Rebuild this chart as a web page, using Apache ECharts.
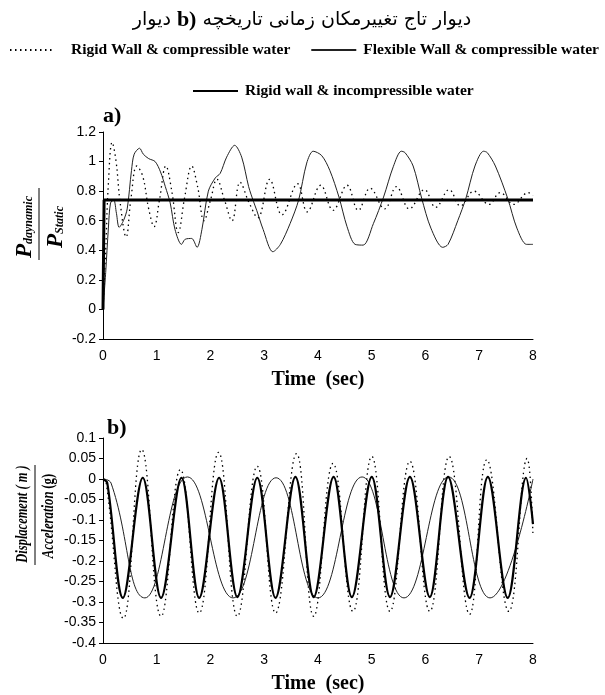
<!DOCTYPE html>
<html><head><meta charset="utf-8">
<script src="https://cdn.jsdelivr.net/npm/echarts@6/dist/echarts.min.js"></script>
<style>html,body{margin:0;padding:0;background:#fff}#c{width:605px;height:695px}</style>
</head><body><div id="c"></div>
<script>
// ---- names / ticks ----
const nameRigidComp = 'Rigid Wall & compressible water';
const nameFlexComp = 'Flexible Wall & compressible water';
const nameRigidIncomp = 'Rigid wall & incompressible water';
// title words in the order they appear on the picture, left to right
const titleWords = ['دیوار', 'b)', 'تاریخچه', 'زمانی', 'تغییرمکان', 'تاج', 'دیوار'];
const xTickLabels = ['0','1','2','3','4','5','6','7','8'];
const yTicksA = [-0.2, 0, 0.2, 0.4, 0.6, 0.8, 1, 1.2];
const yTicksB = [-0.4, -0.35, -0.3, -0.25, -0.2, -0.15, -0.1, -0.05, 0, 0.05, 0.1];

// ---- panel a) pressure ratio, [time s, Pdyn/Pstatic] ----
const aRigidCompressible = [[0,0],[0.05,0.4],[0.1,0.85],[0.17,1.13],[0.24,1.01],[0.32,0.72],[0.43,0.49],[0.52,0.75],[0.63,0.97],[0.74,0.9],[0.85,0.68],[0.95,0.56],[1.05,0.74],[1.17,0.97],[1.28,0.8],[1.4,0.52],[1.52,0.76],[1.65,0.97],[1.76,0.83],[1.88,0.6],[2.0,0.74],[2.12,0.88],[2.26,0.74],[2.4,0.6],[2.55,0.86],[2.72,0.72],[2.88,0.62],[3.1,0.88],[3.33,0.64],[3.62,0.85],[3.8,0.66],[4.05,0.84],[4.28,0.67],[4.54,0.84],[4.75,0.67],[4.97,0.82],[5.24,0.68],[5.46,0.83],[5.7,0.68],[5.98,0.81],[6.19,0.69],[6.44,0.81],[6.65,0.7],[6.9,0.8],[7.18,0.71],[7.39,0.79],[7.64,0.71],[7.91,0.79],[8.0,0.77]];
const aFlexCompressible = [[0,0],[0.05,0.25],[0.1,0.55],[0.14,0.72],[0.2,0.74],[0.25,0.65],[0.3,0.555],[0.38,0.6],[0.45,0.68],[0.53,0.94],[0.58,1.05],[0.68,1.09],[0.75,1.05],[0.85,1.02],[0.97,1.0],[1.07,0.93],[1.16,0.83],[1.25,0.72],[1.34,0.54],[1.46,0.44],[1.53,0.475],[1.65,0.48],[1.75,0.42],[1.84,0.54],[1.96,0.8],[2.09,0.89],[2.18,0.92],[2.3,1.03],[2.45,1.11],[2.58,1.03],[2.71,0.83],[2.8,0.73],[2.86,0.67],[2.98,0.54],[3.16,0.39],[3.3,0.44],[3.48,0.58],[3.64,0.74],[3.79,0.99],[3.91,1.07],[4.07,1.04],[4.22,0.94],[4.39,0.76],[4.54,0.56],[4.69,0.44],[4.84,0.435],[5.03,0.58],[5.22,0.76],[5.4,0.965],[5.55,1.07],[5.62,1.06],[5.77,0.97],[5.93,0.75],[6.1,0.55],[6.32,0.42],[6.42,0.44],[6.6,0.6],[6.75,0.75],[6.92,0.97],[7.08,1.07],[7.15,1.06],[7.3,0.97],[7.53,0.75],[7.7,0.55],[7.88,0.44],[8.0,0.44]];
const aRigidIncompressible = [[0,0],[0.02,0.74],[8,0.74]];

// ---- panel b) displacement / acceleration, [time s, value] ----
const bRigidCompressible = [[0,0],[0.06,-0.01],[0.38,-0.34],[0.72,0.072],[1.08,-0.335],[1.44,0.023],[1.79,-0.327],[2.15,0.065],[2.5,-0.335],[2.87,0.031],[3.21,-0.327],[3.6,0.062],[3.92,-0.335],[4.28,0.038],[4.65,-0.323],[5.0,0.055],[5.34,-0.323],[5.71,0.043],[6.08,-0.323],[6.44,0.055],[6.82,-0.33],[7.14,0.047],[7.55,-0.323],[7.89,0.05],[8.0,-0.14]];
const bFlexCompressible = [[0,0],[0.15,-0.01],[0.78,-0.29],[1.57,0.005],[2.42,-0.29],[3.22,0.003],[4.0,-0.29],[4.82,0.005],[5.6,-0.29],[6.43,0.005],[7.2,-0.29],[8.0,0.0]];
const bRigidIncompressible = [[0,0],[0.08,-0.01],[0.37,-0.29],[0.74,0.003],[1.08,-0.29],[1.46,0.003],[1.79,-0.29],[2.16,0.003],[2.5,-0.288],[2.87,0.003],[3.21,-0.29],[3.58,0.005],[3.92,-0.288],[4.29,0.005],[4.63,-0.288],[5.0,0.005],[5.34,-0.288],[5.71,0.005],[6.08,-0.288],[6.42,0.005],[6.82,-0.29],[7.16,0.005],[7.53,-0.29],[7.87,0.003],[8.0,-0.11]];

const SERIF = "'Liberation Serif','Times New Roman',serif";
const NARROW = "'Liberation Sans Narrow','Arial Narrow','Liberation Sans',sans-serif";
const FA_FONT = "19px 'DejaVu Sans', sans-serif";
const B_FONT = "bold 22px " + SERIF;
const chart = echarts.init(document.getElementById('c'), null, {renderer:'canvas'});

// lay the title words out left to right, each word drawn on its own
const mctx = document.createElement('canvas').getContext('2d');
function wordFont(w){ return /[a-z]/i.test(w) ? B_FONT : FA_FONT; }
const wordGap = 6;
const widths = titleWords.map(w => { mctx.font = wordFont(w); return mctx.measureText(w).width; });
const totalW = widths.reduce((s,v)=>s+v,0) + wordGap*(titleWords.length-1);
let cursor = 302 - totalW/2;
const titleEls = titleWords.map((w,i) => {
  const el = {type:'text', x:cursor, y:20, style:{text:w, font:wordFont(w), fill:'#000', textAlign:'left', verticalAlign:'middle'}};
  cursor += widths[i] + wordGap;
  return el;
});

function xAxisCfg(gi){
  return {type:'value', gridIndex:gi, min:0, max:8, interval:1,
    axisLine:{onZero:false, lineStyle:{color:'#000', width:1}},
    axisTick:{show:false}, splitLine:{show:false},
    axisLabel:{color:'#000', fontFamily:NARROW, fontSize:14, margin:10,
      formatter:(v)=>xTickLabels[Math.round(v)]},
    name:'Time  (sec)', nameLocation:'middle', nameGap:31,
    nameTextStyle:{fontFamily:SERIF, fontWeight:'bold', fontSize:20, color:'#000'}};
}
function yAxisCfg(gi, mn, mx, iv){
  return {type:'value', gridIndex:gi, min:mn, max:mx, interval:iv,
    axisLine:{show:true, lineStyle:{color:'#000', width:1}},
    axisTick:{show:true, inside:false, length:4, lineStyle:{color:'#000'}},
    splitLine:{show:false},
    axisLabel:{color:'#000', fontFamily:NARROW, fontSize:14, margin:7,
      formatter:(v)=>String(+v.toFixed(2))}};
}
const dotted = {color:'#000', width:1.3, type:[1.5,3.5]};
const thin = {color:'#222', width:1};
const thick = {color:'#000', width:3};

const legendText = {fontFamily:SERIF, fontWeight:'bold', fontSize:15.5, color:'#000'};
const option = {
  animation:false,
  backgroundColor:'#fff',
  color:['#000','#222','#000'],
  legend:[
    {left:4, top:37, itemWidth:45, itemHeight:10, itemGap:20,
     itemStyle:{opacity:0},
     textStyle:legendText,
     data:[{name:nameRigidComp, textStyle:{padding:[0,0,0,11]}},
           {name:nameFlexComp, textStyle:{padding:[0,0,0,2]}}]},
    {left:187, top:78, itemWidth:45, itemHeight:10,
     itemStyle:{opacity:0},
     textStyle:Object.assign({padding:[0,0,0,2]}, legendText),
     data:[{name:nameRigidIncomp}]}
  ],
  grid:[
    {left:103, top:132, width:430, height:207},
    {left:103, top:438, width:430, height:207}
  ],
  xAxis:[xAxisCfg(0), xAxisCfg(1)],
  yAxis:[yAxisCfg(0, yTicksA[0], yTicksA[yTicksA.length-1], 0.2),
         yAxisCfg(1, yTicksB[0], yTicksB[yTicksB.length-1], 0.05)],
  series:[
    {name:nameRigidComp, type:'line', xAxisIndex:0, yAxisIndex:0, data:aRigidCompressible, smooth:0.4, symbol:'none', itemStyle:{color:'#000'}, lineStyle:dotted, z:2},
    {name:nameFlexComp, type:'line', xAxisIndex:0, yAxisIndex:0, data:aFlexCompressible, smooth:0.3, symbol:'none', itemStyle:{color:'#222'}, lineStyle:thin, z:3},
    {name:nameRigidIncomp, type:'line', xAxisIndex:0, yAxisIndex:0, data:aRigidIncompressible, symbol:'none', itemStyle:{color:'#000'}, lineStyle:thick, z:4},
    {name:nameRigidComp, type:'line', xAxisIndex:1, yAxisIndex:1, data:bRigidCompressible, smooth:0.45, symbol:'none', itemStyle:{color:'#000'}, lineStyle:dotted, z:2},
    {name:nameFlexComp, type:'line', xAxisIndex:1, yAxisIndex:1, data:bFlexCompressible, smooth:0.45, symbol:'none', itemStyle:{color:'#222'}, lineStyle:thin, z:3},
    {name:nameRigidIncomp, type:'line', xAxisIndex:1, yAxisIndex:1, data:bRigidIncompressible, smooth:0.35, symbol:'none', itemStyle:{color:'#000'}, lineStyle:{color:'#000', width:2.2}, z:4}
  ],
  graphic:titleEls.concat([
    {type:'text', left:103, top:105, style:{text:'a)', font:"bold 22px "+SERIF, fill:'#000'}},
    {type:'text', left:107, top:417, style:{text:'b)', font:"bold 22px "+SERIF, fill:'#000'}},
    {type:'group', x:39, y:224, rotation:Math.PI/2, children:[
      {type:'text', x:-34, y:-14, style:{text:'P', font:"bold italic 23px "+SERIF, fill:'#000', textAlign:'left', verticalAlign:'middle'}},
      {type:'text', x:-20, y:-10, style:{text:'daynamic', font:"bold italic 12px "+SERIF, fill:'#000', textAlign:'left', verticalAlign:'middle'}},
      {type:'line', shape:{x1:-36, y1:0, x2:36, y2:0}, style:{stroke:'#000', lineWidth:1}},
      {type:'text', x:-24, y:17, style:{text:'P', font:"bold italic 23px "+SERIF, fill:'#000', textAlign:'left', verticalAlign:'middle'}},
      {type:'text', x:-10, y:21, style:{text:'Static', font:"bold italic 12px "+SERIF, fill:'#000', textAlign:'left', verticalAlign:'middle'}}
    ]},
    {type:'group', x:35, y:515, rotation:Math.PI/2, children:[
      {type:'text', x:1, y:-12, scaleX:0.78, style:{text:'Displacement ( m )', font:"bold italic 16px "+SERIF, fill:'#000', textAlign:'center', verticalAlign:'middle'}},
      {type:'line', shape:{x1:-50, y1:0, x2:50, y2:0}, style:{stroke:'#000', lineWidth:1}},
      {type:'text', x:-1, y:14, scaleX:0.8, style:{text:'{i|Acceleration} {n|(g)}', textAlign:'center', verticalAlign:'middle',
        rich:{i:{font:"bold italic 16px "+SERIF, fill:'#000'}, n:{font:"bold 16px "+SERIF, fill:'#000'}}}}
    ]}
  ])
};
chart.setOption(option);
</script></body></html>
